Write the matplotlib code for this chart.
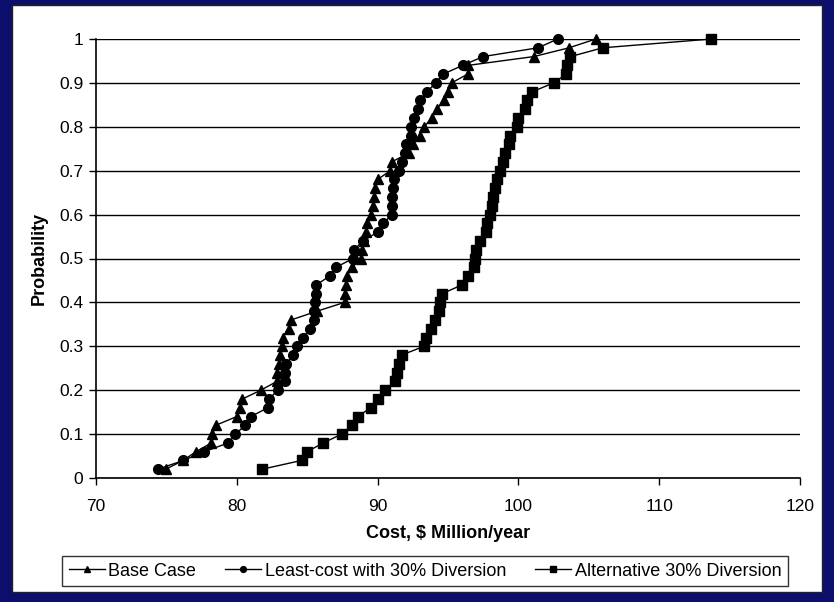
import matplotlib
matplotlib.use("Agg")
import matplotlib.pyplot as plt
from matplotlib.patches import Rectangle

plt.rcParams["font.family"] = ["Liberation Sans", "DejaVu Sans"]

# cumulative probability levels (50 runs)
probability = [round(0.02 * (i + 1), 2) for i in range(50)]

base_case = [
    74.95, 76.2, 77.1, 78.2, 78.25, 78.5, 80.0, 80.2, 80.4, 81.7,
    82.85, 82.85, 83.0, 83.1, 83.2, 83.25, 83.7, 83.85, 85.7, 87.65,
    87.7, 87.75, 87.8, 88.2, 88.85, 88.9, 89.0, 89.2, 89.25, 89.5,
    89.7, 89.75, 89.85, 90.0, 90.9, 91.0, 92.2, 92.5, 93.0, 93.3,
    93.85, 94.2, 94.7, 95.0, 95.25, 96.4, 96.45, 101.1, 103.6, 105.5,
]
least_cost = [
    74.4, 76.2, 77.7, 79.4, 79.9, 80.6, 81.0, 82.2, 82.3, 82.9,
    83.4, 83.45, 83.5, 84.0, 84.3, 84.7, 85.2, 85.5, 85.5, 85.55,
    85.6, 85.65, 86.6, 87.05, 88.25, 88.35, 88.95, 90.0, 90.4, 91.0,
    91.05, 91.05, 91.1, 91.2, 91.5, 91.7, 91.95, 92.0, 92.35, 92.4,
    92.6, 92.9, 93.0, 93.5, 94.15, 94.65, 96.05, 97.5, 101.4, 102.8,
]
alternative = [
    81.8, 84.6, 85.0, 86.15, 87.45, 88.2, 88.6, 89.5, 90.05, 90.5,
    91.25, 91.4, 91.5, 91.7, 93.3, 93.45, 93.8, 94.1, 94.35, 94.4,
    94.6, 96.0, 96.4, 96.85, 96.9, 97.0, 97.3, 97.7, 97.8, 98.0,
    98.15, 98.2, 98.35, 98.45, 98.7, 98.9, 99.05, 99.3, 99.4, 99.9,
    100.0, 100.5, 100.6, 101.0, 102.5, 103.4, 103.45, 103.7, 106.0, 113.7,
]

x_ticks = [70, 80, 90, 100, 110, 120]
y_ticks = [0, 0.1, 0.2, 0.3, 0.4, 0.5, 0.6, 0.7, 0.8, 0.9, 1]
y_tick_labels = ["0", "0.1", "0.2", "0.3", "0.4", "0.5", "0.6", "0.7", "0.8", "0.9", "1"]

fig = plt.figure(figsize=(8.34, 6.02), dpi=100)
fig.patch.set_facecolor("#0b0f6b")

# white chart area behind the axes
fig.patches.append(Rectangle((12 / 834, 10 / 602), 810 / 834, 587 / 602,
                             transform=fig.transFigure, facecolor="white",
                             edgecolor="#222222", linewidth=1.0, zorder=-5))

ax = fig.add_axes([96 / 834, 1 - 478 / 602, 704 / 834, 439 / 602])
ax.set_zorder(1)
ax.patch.set_alpha(0)

ax.plot(base_case, probability, color="black", lw=1.0, marker="^", ms=7.5,
        label="Base Case", clip_on=False, zorder=3)
ax.plot(least_cost, probability, color="black", lw=1.0, marker="o", ms=7,
        label="Least-cost with 30% Diversion", clip_on=False, zorder=3)
ax.plot(alternative, probability, color="black", lw=1.0, marker="s", ms=7,
        label="Alternative 30% Diversion", clip_on=False, zorder=3)

ax.set_xlim(70, 120)
ax.set_ylim(0, 1)
ax.set_xticks(x_ticks)
ax.set_yticks(y_ticks)
ax.set_yticklabels(y_tick_labels)
ax.grid(axis="y", color="black", lw=1.0)
ax.set_axisbelow(True)

for side in ("top", "right"):
    ax.spines[side].set_visible(False)
for side in ("left", "bottom"):
    ax.spines[side].set_color("black")
    ax.spines[side].set_linewidth(1.2)

ax.tick_params(axis="both", direction="out", length=5, width=1, colors="black",
               labelsize=12.5)
ax.tick_params(axis="x", pad=10)
ax.tick_params(axis="y", pad=4)

ax.set_xlabel("Cost, $ Million/year", fontsize=13, fontweight="bold", labelpad=8)
ax.set_ylabel("Probability", fontsize=13, fontweight="bold", labelpad=8)

leg = fig.legend(loc="center", bbox_to_anchor=(425 / 834, 1 - 571 / 602), ncol=3,
                 fontsize=13, frameon=True, fancybox=False, edgecolor="black",
                 handlelength=2.0, handletextpad=0.2, columnspacing=1.6,
                 borderpad=0.35, markerscale=0.6)
leg.get_frame().set_linewidth(1.0)

fig.savefig("out.png", dpi=100, facecolor=fig.get_facecolor())
